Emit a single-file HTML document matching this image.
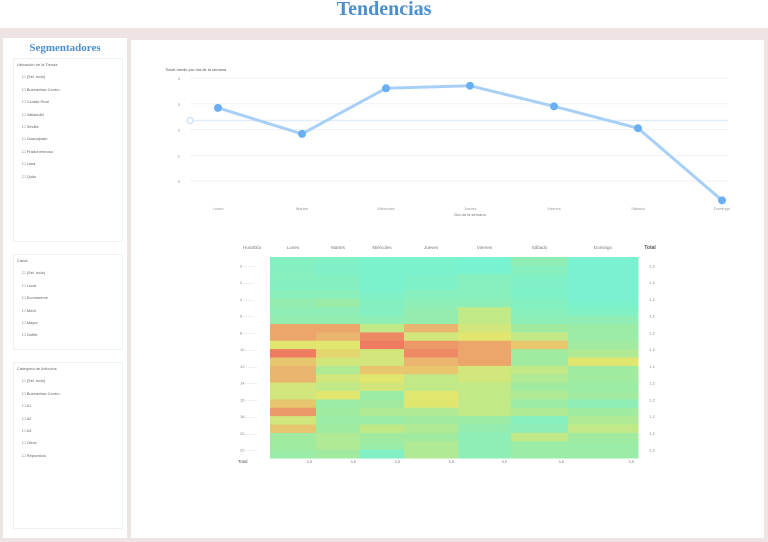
<!DOCTYPE html>
<html><head><meta charset="utf-8"><style>
body{margin:0;width:768px;height:542px;background:#efe4e4;font-family:"Liberation Sans",sans-serif;position:relative;overflow:hidden}
.hdr{position:absolute;left:0;top:0;width:768px;height:28px;background:#fff;text-align:center}
.hdr h1{margin:-2px 0 0;font:bold 20px "Liberation Serif",serif;color:#4a8fd0;line-height:22px}
.lp{position:absolute;left:3px;top:38px;width:124px;height:500px;background:#fff}
.mp{position:absolute;left:131px;top:40px;width:633px;height:498px;background:#fff}
.lp h2{margin:4px 0 0;text-align:center;font:bold 11px "Liberation Serif",serif;color:#4a8fd0}
.box{position:absolute;left:10px;width:108px;border:1px solid #f0f0f0;background:#fff;font-size:4px;color:#666}
.box div{height:12.4px;line-height:12px;padding-left:8px}
.box .t{padding-left:3px}
</style></head><body>
<div class="hdr"><h1>Tendencias</h1></div>
<div class="lp">
<h2>Segmentadores</h2>
<div class="box" style="top:20px;height:182px">
<div class="t">Ubicación de la Tienda</div><div>☐ (Sel. todo)</div><div>☐ Buenavista Centro</div><div>☐ Ciudad Real</div><div>☐ Valladolid</div><div>☐ Sevilla</div><div>☐ Guanajuato</div><div>☐ Pradohermoso</div><div>☐ Lima</div><div>☐ Quito</div></div>
<div class="box" style="top:216px;height:94px">
<div class="t">Canal</div><div>☐ (Sel. todo)</div><div>☐ Local</div><div>☐ Ecommerce</div><div>☐ Móvil</div><div>☐ Mayor</div><div>☐ Outlet</div></div>
<div class="box" style="top:324px;height:165px">
<div class="t">Categoría de Artículos</div><div>☐ (Sel. todo)</div><div>☐ Buenavista Centro</div><div>☐ A1</div><div>☐ A2</div><div>☐ A3</div><div>☐ Otros</div><div>☐ Repuestos</div></div>
</div>
<div class="mp"></div>
<svg id="c" width="768" height="542" style="position:absolute;left:0;top:0"></svg>
<script>
const days=["Lunes","Martes","Miércoles","Jueves","Viernes","Sábado","Domingo"];
const lineVals=[2.84,1.83,3.6,3.7,2.9,2.05,-0.75];
const refVal=2.35;
const yTicks=[4,3,2,1,0];
const hours=["0","2","4","6","8","10","12","14","16","18","20","22"];
const heat=[
[0.12,0.1,0.05,0.05,0.02,0.2,0.03],
[0.12,0.08,0.05,0.05,0.02,0.15,0.03],
[0.15,0.12,0.05,0.08,0.15,0.1,0.03],
[0.12,0.12,0.05,0.08,0.15,0.08,0.03],
[0.18,0.18,0.08,0.15,0.15,0.08,0.03],
[0.25,0.3,0.12,0.2,0.2,0.12,0.05],
[0.2,0.2,0.12,0.25,0.45,0.15,0.1],
[0.25,0.25,0.2,0.25,0.45,0.2,0.2],
[0.75,0.75,0.45,0.7,0.5,0.35,0.3],
[0.75,0.7,0.85,0.5,0.55,0.45,0.3],
[0.55,0.55,0.9,0.8,0.75,0.65,0.35],
[0.9,0.6,0.5,0.85,0.75,0.35,0.4],
[0.65,0.5,0.5,0.7,0.75,0.35,0.55],
[0.7,0.4,0.65,0.65,0.5,0.45,0.35],
[0.7,0.5,0.55,0.45,0.5,0.4,0.35],
[0.5,0.45,0.5,0.45,0.45,0.35,0.3],
[0.5,0.55,0.3,0.55,0.45,0.4,0.35],
[0.65,0.3,0.35,0.55,0.45,0.3,0.2],
[0.8,0.35,0.4,0.4,0.45,0.4,0.35],
[0.5,0.3,0.3,0.35,0.3,0.15,0.4],
[0.65,0.35,0.45,0.4,0.25,0.2,0.45],
[0.35,0.4,0.35,0.35,0.2,0.45,0.35],
[0.35,0.4,0.3,0.4,0.2,0.3,0.3],
[0.3,0.35,0.1,0.4,0.2,0.3,0.3]];
const colEdges=[270,316,360,404,458,511,568,638];
const svg=document.getElementById('c');const NS='http://www.w3.org/2000/svg';
function mk(t,a,p){const e=document.createElementNS(NS,t);for(const k in a)e.setAttribute(k,a[k]);(p||svg).appendChild(e);return e;}
const x0=218,dx=84,yTop=78,yBot=181;
const ys=v=>yBot-(v-0)/(4-0)*(yBot-yTop);
const xs=i=>x0+i*dx;
const ct=mk('text',{x:165,y:71,'font-size':4,fill:'#555'});ct.textContent='Ticket medio por día de la semana';


yTicks.forEach(t=>{const g=mk('line',{x1:190,x2:728,y1:ys(t),y2:ys(t),stroke:'#f2f2f2'});


const l=mk('text',{x:180,y:ys(t)+2,'font-size':4,fill:'#888','text-anchor':'end'});l.textContent=t;

});
const rl=mk('line',{x1:190,x2:728,y1:ys(refVal),y2:ys(refVal),stroke:'#e2eefa','stroke-width':1.5});


const rc=mk('circle',{cx:190,cy:ys(refVal),r:3,fill:'#fff',stroke:'#bcd8f5'});


const pl=mk('polyline',{points:lineVals.map((v,i)=>xs(i)+','+ys(v)).join(' '),fill:'none',stroke:'#a8d0f7','stroke-width':3});


lineVals.forEach((v,i)=>{const p=mk('circle',{cx:xs(i),cy:ys(v),r:4,fill:'#6aaff3'});


const xl=mk('text',{x:xs(i),y:210,'font-size':4,fill:'#999','text-anchor':'middle'});xl.textContent=days[i];

});
const xt=mk('text',{x:470,y:216,'font-size':4,fill:'#777','text-anchor':'middle'});xt.textContent='Día de la semana';


function col(v){const st=[[0,[118,242,212]],[0.35,[160,235,160]],[0.55,[225,230,110]],[0.72,[235,175,110]],[1,[240,95,90]]];
for(let i=1;i<st.length;i++){if(v<=st[i][0]){const a=st[i-1],b=st[i],t=(v-a[0])/(b[0]-a[0]);return 'rgb('+a[1].map((c,k)=>Math.round(c+(b[1][k]-c)*t)).join(',')+')';}}return 'rgb(240,95,90)';}
const hy0=257,hy1=458,rh=(hy1-hy0)/heat.length;
heat.forEach((row,r)=>row.forEach((v,c)=>{const e=mk('rect',{x:colEdges[c],y:hy0+r*rh,width:colEdges[c+1]-colEdges[c]+0.5,height:rh+0.5,fill:col(v)});

}));
days.forEach((d,c)=>{const t=mk('text',{x:(colEdges[c]+colEdges[c+1])/2,y:249,'font-size':4.5,fill:'#777','text-anchor':'middle'});t.textContent=d;


const tt=mk('text',{x:colEdges[c+1]-4,y:463,'font-size':4,fill:'#777','text-anchor':'end'});tt.textContent='3,5';

});
const hl=mk('text',{x:252,y:249,'font-size':4.5,fill:'#777','text-anchor':'middle'});hl.textContent='Hora/Día';


const tl=mk('text',{x:650,y:249,'font-size':5,fill:'#555','font-weight':'bold','text-anchor':'middle'});tl.textContent='Total';


hours.forEach((h,i)=>{const y=hy0+i*2*rh+rh;const t=mk('text',{x:240,y:y+2,'font-size':4,fill:'#888'});t.textContent=h+' - - - - -';


const r=mk('text',{x:655,y:y+2,'font-size':4,fill:'#888','text-anchor':'end'});r.textContent='1,2';

});
const tot=mk('text',{x:238,y:463,'font-size':4.5,fill:'#555'});tot.textContent='Total';


</script>
</body></html>
